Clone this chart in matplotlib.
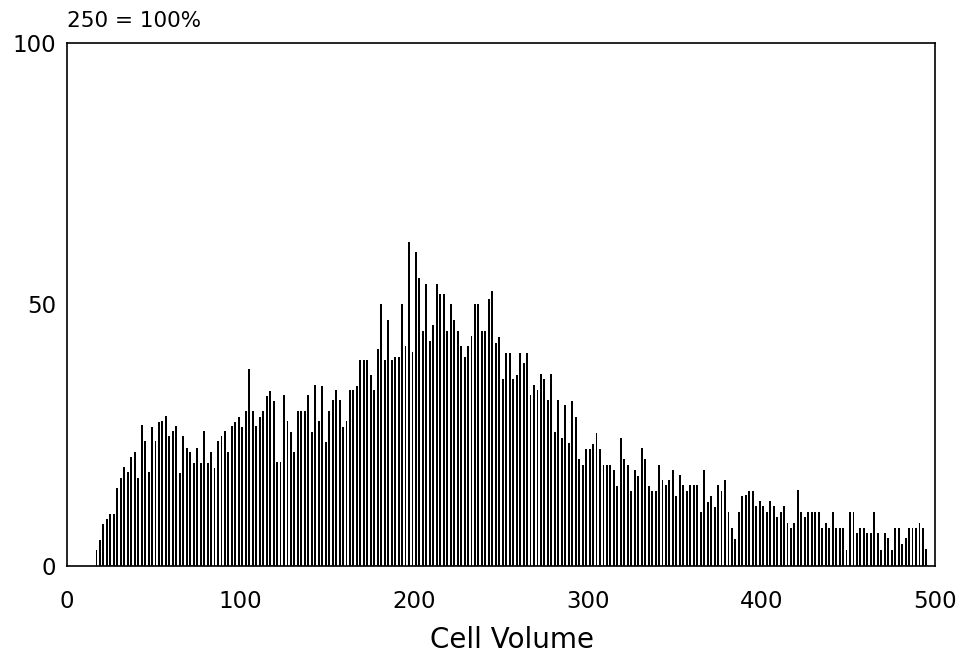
import matplotlib
matplotlib.use("Agg")
import matplotlib.pyplot as plt

# Channel centres of the volume histogram (every second channel)
cell_volume = list(range(17, 497, 2))

# Relative count per channel, in percent of full scale (250 counts = 100 %)
percent = [
    3.0, 4.9, 8.0, 9.0, 9.9, 9.9, 14.9, 16.9, 18.9, 18.0, 20.8, 21.8, 16.9, 26.9, 23.9, 18.0,
    26.6, 23.9, 27.6, 27.7, 28.7, 24.8, 25.8, 26.8, 17.8, 24.8, 22.6, 21.8, 19.7, 22.6, 19.7, 25.8,
    19.7, 21.8, 18.8, 23.9, 24.8, 25.8, 21.8, 26.8,
    27.6, 28.5, 26.6, 29.7, 37.6, 29.7, 26.8, 28.5, 29.7, 32.5, 33.4, 31.6, 19.9, 19.9, 32.6, 27.7,
    25.7, 21.8, 29.7, 29.7, 29.7, 32.6, 25.7, 34.6,
    27.7, 34.5, 23.7, 29.6, 31.7, 33.6, 31.7, 26.6, 27.7, 33.6, 33.6, 34.5, 39.4, 39.4, 39.4, 36.6,
    33.6, 41.5, 50.0, 39.4, 47.0, 39.4, 40.0,
    40.0, 50.0, 42.0, 62.0, 41.0, 60.0, 55.0, 45.0, 54.0, 43.0, 46.0, 54.0, 52.0, 52.0, 45.0, 50.0,
    47.0, 45.0, 42.0, 40.0, 42.0, 44.0, 50.0, 50.0, 45.0, 45.0,
    51.0, 52.5, 42.6, 43.7, 35.7, 40.7, 40.7, 35.7, 36.5, 40.7, 38.8, 40.7, 32.6, 34.7, 33.7, 36.8,
    35.8, 31.7, 36.8, 25.6, 31.7, 24.5, 30.7, 23.5,
    31.6, 28.5, 20.4, 19.3, 22.4, 22.4, 23.4, 25.5, 22.4, 19.4, 19.4, 19.4, 18.4, 15.3, 24.5, 20.4,
    19.4, 14.3, 18.4, 17.3, 22.5, 20.4, 15.3, 14.3, 14.3,
    19.4, 16.4, 15.4, 16.4, 18.4, 13.3, 17.4, 15.4, 14.4, 15.4, 15.4, 15.4, 10.3, 18.4, 12.3, 13.4,
    11.3, 15.4, 14.4, 16.4, 10.3, 7.2, 5.2, 10.3,
    13.4, 13.5, 14.3, 14.3, 11.4, 12.4, 11.4, 10.3, 12.4, 11.4, 9.3, 10.3, 11.4, 8.3, 7.3, 8.3,
    14.5, 10.4, 9.4, 10.4, 10.4, 10.4, 10.4, 7.3, 8.3,
    7.2, 10.3, 7.2, 7.2, 7.2, 3.1, 10.3, 10.3, 6.3, 7.2, 7.2, 6.3, 6.3, 10.3, 6.3, 3.1,
    6.3, 5.3, 3.1, 7.2, 7.2, 4.3, 5.3, 7.2, 7.2, 7.2, 8.2, 7.2, 3.2,
]

x_ticks = [0, 100, 200, 300, 400, 500]
y_ticks = [0, 50, 100]
x_label = "Cell Volume"
scale_note = "250 = 100%"

plt.rcParams["font.family"] = ["DejaVu Sans"]

fig = plt.figure(figsize=(9.69, 6.58), dpi=100)
ax = fig.add_axes([0.0691, 0.1398, 0.8959, 0.7949])

ax.bar(cell_volume, percent, width=1.1, color="black", linewidth=0)

ax.set_xlim(0, 500)
ax.set_ylim(0, 100)
ax.set_xticks(x_ticks)
ax.set_yticks(y_ticks)
ax.tick_params(axis="both", length=0, labelsize=16.5, colors="black")
ax.tick_params(axis="x", pad=17)
ax.tick_params(axis="y", pad=8)

for sp in ax.spines.values():
    sp.set_linewidth(1.2)
    sp.set_color("black")

ax.set_xlabel(x_label, fontsize=20)
ax.xaxis.set_label_coords(0.513, -0.115)
fig.text(0.069, 0.968, scale_note, fontsize=15.5, ha="left", va="center")

fig.savefig("out.png", dpi=100)
